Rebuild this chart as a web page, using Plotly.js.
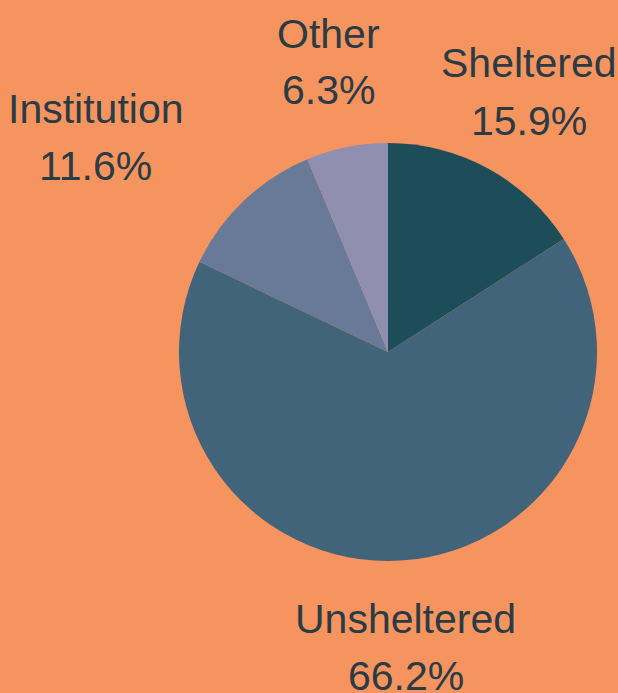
<!DOCTYPE html>
<html><head><meta charset="utf-8">
<script src="https://cdn.plot.ly/plotly-3.0.1.min.js"></script>
<style>html,body{margin:0;padding:0;background:#f5945f;}</style>
</head><body>
<div id="chart" style="width:618px;height:693px;"></div>
<script>
const categories = ["Sheltered", "Unsheltered", "Institution", "Other"];
const shares = [15.9, 66.2, 11.6, 6.3];
const sliceColors = ["#1d4d59", "#41647a", "#687a98", "#908fb0"];

// label placement (pixel centre x, name-line middle y, percent-line middle y)
const labelX = [528.5, 405.5, 95.5, 329];
const nameY = [63, 619, 109, 34];
const pctY = [121, 676, 166, 90];

const W = 618, H = 693;
const total = shares.reduce((a, b) => a + b, 0);
const fontSpec = {family: "Liberation Sans, Arial, sans-serif", size: 41, color: "#2a3b44"};

const annotations = [];
categories.forEach((c, i) => {
  const pct = (shares[i] / total * 100).toFixed(1) + "%";
  annotations.push({xref: "paper", yref: "paper", x: labelX[i] / W, y: 1 - nameY[i] / H,
    xanchor: "center", yanchor: "middle", text: c, showarrow: false, font: fontSpec});
  annotations.push({xref: "paper", yref: "paper", x: labelX[i] / W, y: 1 - pctY[i] / H,
    xanchor: "center", yanchor: "middle", text: pct, showarrow: false, font: fontSpec});
});

const data = [{
  type: "pie",
  labels: categories,
  values: shares,
  sort: false,
  direction: "clockwise",
  rotation: 0,
  marker: {colors: sliceColors, line: {width: 0}},
  textinfo: "none",
  domain: {x: [179/618, 597/618], y: [1 - 561/693, 1 - 143/693]},
  hoverinfo: "none"
}];
const layout = {
  width: W, height: H,
  margin: {l: 0, r: 0, t: 0, b: 0},
  paper_bgcolor: "#f5945f",
  plot_bgcolor: "#f5945f",
  showlegend: false,
  font: fontSpec,
  annotations: annotations
};
Plotly.newPlot("chart", data, layout, {displayModeBar: false, staticPlot: true});
</script>
</body></html>
